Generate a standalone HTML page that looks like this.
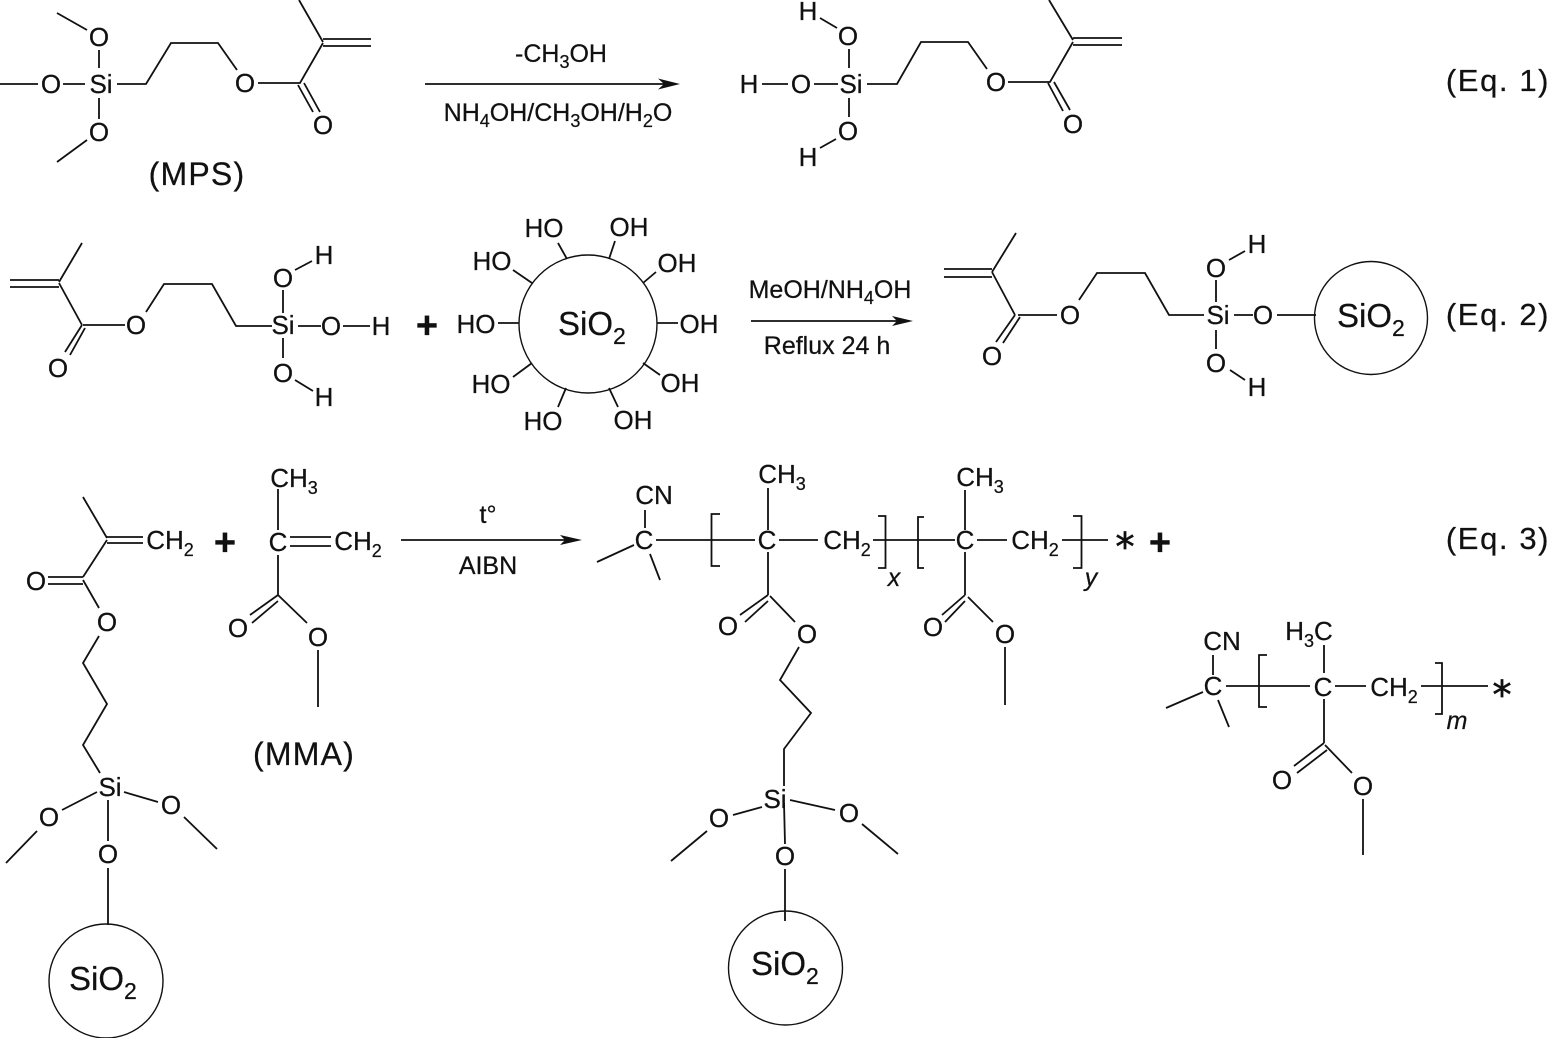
<!DOCTYPE html>
<html><head><meta charset="utf-8"><style>
html,body{margin:0;padding:0;background:#fff}
svg{display:block}
text{font-family:"Liberation Sans",sans-serif;font-size:26px;fill:#111;stroke:#111;stroke-width:.25;text-anchor:middle}
.s{font-size:18px}
.eq{font-size:31px;letter-spacing:1.6px}
.lab{font-size:32px;letter-spacing:1.2px}
.r{font-size:25px}
.i{font-style:italic;font-size:25px}
.b{font-size:38px;font-weight:bold}
.si{font-size:33px;text-anchor:start}
.si2{font-size:23px}
.st{font-family:"DejaVu Sans",sans-serif;font-size:38px;stroke-width:.7}
path,line,circle{fill:none;stroke:#111;stroke-width:1.8}
circle{stroke-width:1.4}
.f{fill:#111;stroke:none}
</style></head><body>
<svg width="1549" height="1038" viewBox="0 0 1549 1038" xmlns="http://www.w3.org/2000/svg">
<!-- Eq1 left -->
<path d="M57 13L87 30M99 50V68M0 84H38M63 84H85M99 98V119M87 140L57 162M117 84H146L171 43H218L237 70M258 83H300L323 43M299 0L323 42M298 85L313 112M304 83L320 112M323 39H371M323 46H371"/>
<text x="99" y="46">O</text><text x="51" y="93">O</text><text x="101" y="93">Si</text><text x="99" y="141">O</text><text x="245" y="92">O</text><text x="323" y="134">O</text>
<text class="lab" x="197" y="185">(MPS)</text>
<path d="M425 84H668"/><path class="f" d="M658 78.5L680 84L658 89.5L664 84Z"/>
<text class="r" x="561" y="62">-CH<tspan class="s" dy="6">3</tspan><tspan dy="-6">OH</tspan></text>
<text class="r" x="558" y="121">NH<tspan class="s" dy="6">4</tspan><tspan dy="-6">OH/CH</tspan><tspan class="s" dy="6">3</tspan><tspan dy="-6">OH/H</tspan><tspan class="s" dy="6">2</tspan><tspan dy="-6">O</tspan></text>
<!-- Eq1 right -->
<path d="M820 18L837 28M849 49V68M762 84H788M814 84H838M849 98V117M836 139L820 148M867 84H897L921 42H968L987 69M1008 82H1050L1073 42M1049 0L1073 40M1048 83L1063 111M1054 82L1070 110M1073 38H1122M1073 45H1122"/>
<text x="808" y="20">H</text><text x="848" y="45">O</text><text x="749" y="93">H</text><text x="801" y="93">O</text><text x="851" y="93">Si</text><text x="848" y="140">O</text><text x="808" y="166">H</text><text x="996" y="91">O</text><text x="1073" y="133">O</text>
<text class="eq" x="1498" y="91">(Eq. 1)</text>
<!-- Eq2 left -->
<path d="M82 243L59 282M10 280H59M10 287H59M59 283L82 325M82 325L65 352M85 328L70 355M83 325H125M146 312L164 284H212L236 326H272M298 326H321M343 326H370M283 290V313M295 270L312 261M283 338V358M295 380L313 391"/>
<text x="324" y="264">H</text><text x="283" y="287">O</text><text x="283" y="334">Si</text><text x="331" y="335">O</text><text x="381" y="335">H</text><text x="283" y="382">O</text><text x="324" y="406">H</text><text x="136" y="334">O</text><text x="58" y="377">O</text>
<text class="b" x="427" y="338">+</text>
<circle cx="588" cy="324" r="69"/>
<text class="si" x="558" y="335">SiO<tspan class="si2" dy="9">2</tspan></text>
<path d="M558 243L567 259M615 241L609 259M656 272L643 283M657 323H678M643 363L660 375M609 388L618 407M566 388L558 407M532 363L513 377M498 323H519M513 270L532 283"/>
<text x="544" y="237">HO</text><text x="629" y="236">OH</text><text x="677" y="272">OH</text><text x="699" y="333">OH</text><text x="680" y="392">OH</text><text x="633" y="429">OH</text><text x="543" y="430">HO</text><text x="491" y="393">HO</text><text x="476" y="333">HO</text><text x="492" y="270">HO</text>
<path d="M751 321H900"/><path class="f" d="M892 316L913 321L892 326L897 321Z"/>
<text class="r" x="830" y="298">MeOH/NH<tspan class="s" dy="6">4</tspan><tspan dy="-6">OH</tspan></text>
<text class="r" x="827" y="354">Reflux 24 h</text>
<!-- Eq2 right -->
<path d="M1016 233L992 272M944 269H992M944 277H992M992 272L1015 315M1015 315L996 342M1020 317L1003 343M1018 315H1057M1079 300L1097 273H1145L1169 315H1204M1216 280V302M1229 260L1245 251M1234 315H1253M1277 315H1316M1216 330V349M1230 370L1245 380"/>
<text x="1070" y="324">O</text><text x="992" y="365">O</text><text x="1257" y="253">H</text><text x="1216" y="277">O</text><text x="1218" y="324">Si</text><text x="1263" y="324">O</text><text x="1216" y="372">O</text><text x="1257" y="396">H</text>
<circle cx="1371" cy="318" r="56.5"/>
<text class="si" x="1337" y="327">SiO<tspan class="si2" dy="9">2</tspan></text>
<text class="eq" x="1498" y="325">(Eq. 2)</text>
<!-- Eq3 left -->
<path d="M83 497L107 538M107 537H143M107 543H143M107 540L83 577M48 577H83M48 584H83M83 580L99 608M99 636L83 663L107 704L83 745L100 773M124 792L158 802M184 817L217 849M97 792L62 810M37 831L6 863M108 800V841M108 868V925"/>
<text x="170" y="549">CH<tspan class="s" dy="7">2</tspan></text>
<text x="36" y="590">O</text><text x="107" y="631">O</text><text x="110" y="796">Si</text><text x="171" y="814">O</text><text x="49" y="826">O</text><text x="108" y="863">O</text>
<circle cx="106" cy="981" r="57"/>
<text class="si" x="69" y="990">SiO<tspan class="si2" dy="9">2</tspan></text>
<text class="b" x="225" y="555">+</text>
<!-- MMA -->
<path d="M278 489V530M290 537H331M290 546H331M278 555V595M278 595L250 615M278 601L252 623M278 595L307 623M318 650V707"/>
<text x="294" y="487">CH<tspan class="s" dy="7">3</tspan></text><text x="278" y="551">C</text><text x="358" y="550">CH<tspan class="s" dy="7">2</tspan></text><text x="238" y="637">O</text><text x="318" y="646">O</text>
<text class="lab" x="304" y="765">(MMA)</text>
<path d="M401 540H570"/><path class="f" d="M560 535L582 540L560 545L565 540Z"/>
<text class="r" x="488" y="523">t°</text><text class="r" x="488" y="574">AIBN</text>
<!-- polymer -->
<path d="M645 510V528M634 545L597 562M650 554L660 580M656 540H755M720 514H711.5V566H720M768 488V530M779 540H818M878 516H885.5V568H878M873 540H955M924 517H918V568H924M965 490V530M977 540H1007M1073 516H1081.5V568H1073M1062 540H1108M768 552V595M768 595L740 615M768 601L745 622M770 596L795 622M799 647L780 680L811 713L784 749V786M965 552V595M965 595L942 615M965 601L945 622M968 597L993 622M1005 647V705M790 800L835 810M862 824L898 854M762 807L733 815M707 831L671 861M784 803L785 844M785 869V921"/>
<text x="654" y="504">CN</text><text x="644" y="549">C</text><text x="767" y="549">C</text><text x="782" y="483">CH<tspan class="s" dy="7">3</tspan></text><text x="847" y="549">CH<tspan class="s" dy="7">2</tspan></text>
<text class="i" x="894" y="586">x</text><text x="965" y="549">C</text><text x="980" y="486">CH<tspan class="s" dy="7">3</tspan></text><text x="1035" y="549">CH<tspan class="s" dy="7">2</tspan></text><text class="i" x="1091" y="586">y</text>
<text class="st" x="1125" y="560">*</text>
<text class="b" x="1160" y="555">+</text>
<text x="728" y="635">O</text><text x="807" y="643">O</text><text x="933" y="636">O</text><text x="1005" y="643">O</text>
<text x="775" y="808">Si</text><text x="849" y="822">O</text><text x="719" y="827">O</text><text x="785" y="865">O</text>
<circle cx="785.5" cy="968" r="57"/>
<text class="si" x="751" y="975">SiO<tspan class="si2" dy="9">2</tspan></text>
<text class="eq" x="1498" y="549">(Eq. 3)</text>
<!-- third -->
<path d="M1213 655V675M1203 692L1166 708M1218 700L1229 727M1226 686H1310M1267 655H1259V707H1267M1324 645V673M1335 686H1366M1435 663H1442V714H1435M1421 686H1488M1324 699V743M1324 743L1294 766M1327 750L1297 773M1325 745L1352 773M1363 799V855"/>
<text x="1222" y="650">CN</text><text x="1213" y="695">C</text><text x="1323" y="696">C</text>
<text x="1309" y="640">H<tspan class="s" dy="7">3</tspan><tspan dy="-7">C</tspan></text>
<text x="1394" y="696">CH<tspan class="s" dy="7">2</tspan></text><text class="i" x="1457" y="729">m</text>
<text class="st" x="1502" y="708">*</text>
<text x="1282" y="789">O</text><text x="1363" y="795">O</text>
</svg>
</body></html>
